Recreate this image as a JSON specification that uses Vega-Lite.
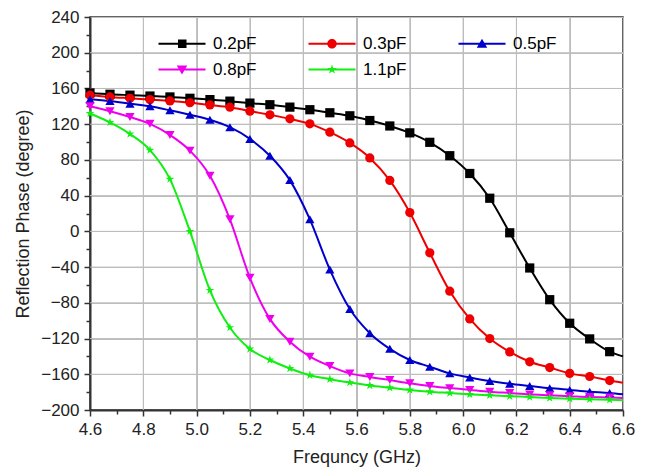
{
  "$schema": "https://vega.github.io/schema/vega-lite/v6.json",
  "width": 533,
  "height": 393,
  "autosize": {"type": "none"},
  "padding": {"left": 90, "top": 17, "right": 26, "bottom": 62},
  "background": "white",
  "config": {
    "font": "Liberation Sans",
    "view": {"stroke": "#333", "strokeWidth": 1.5}
  },
  "datasets": {
    "gx": [{"g":4.8},{"g":5.0},{"g":5.2},{"g":5.4},{"g":5.6},{"g":5.8},{"g":6.0},{"g":6.2},{"g":6.4}],
    "gy": [{"g":-160},{"g":-120},{"g":-80},{"g":-40},{"g":0},{"g":40},{"g":80},{"g":120},{"g":160},{"g":200}],
    "curves": [
      {"f":4.6,"p":155,"s":"0.2pF"},{"f":4.675,"p":153.5,"s":"0.2pF"},{"f":4.75,"p":152.5,"s":"0.2pF"},{"f":4.825,"p":151.5,"s":"0.2pF"},{"f":4.9,"p":150.5,"s":"0.2pF"},{"f":4.975,"p":149,"s":"0.2pF"},{"f":5.05,"p":147.5,"s":"0.2pF"},{"f":5.125,"p":145.8,"s":"0.2pF"},{"f":5.2,"p":143.6,"s":"0.2pF"},{"f":5.275,"p":141.8,"s":"0.2pF"},{"f":5.35,"p":139.1,"s":"0.2pF"},{"f":5.425,"p":136.2,"s":"0.2pF"},{"f":5.5,"p":132.8,"s":"0.2pF"},{"f":5.575,"p":129.4,"s":"0.2pF"},{"f":5.65,"p":124.1,"s":"0.2pF"},{"f":5.725,"p":118,"s":"0.2pF"},{"f":5.8,"p":110.3,"s":"0.2pF"},{"f":5.875,"p":99.7,"s":"0.2pF"},{"f":5.95,"p":84.7,"s":"0.2pF"},{"f":6.025,"p":64.8,"s":"0.2pF"},{"f":6.1,"p":37.1,"s":"0.2pF"},{"f":6.175,"p":-1.6,"s":"0.2pF"},{"f":6.25,"p":-41,"s":"0.2pF"},{"f":6.325,"p":-76.5,"s":"0.2pF"},{"f":6.4,"p":-102.9,"s":"0.2pF"},{"f":6.475,"p":-120.4,"s":"0.2pF"},{"f":6.55,"p":-134.7,"s":"0.2pF"},{"f":6.6,"p":-140,"s":"0.2pF"},
      {"f":4.6,"p":152.5,"s":"0.3pF"},{"f":4.675,"p":150.5,"s":"0.3pF"},{"f":4.75,"p":149,"s":"0.3pF"},{"f":4.825,"p":147.5,"s":"0.3pF"},{"f":4.9,"p":146,"s":"0.3pF"},{"f":4.975,"p":144,"s":"0.3pF"},{"f":5.05,"p":141.5,"s":"0.3pF"},{"f":5.125,"p":139,"s":"0.3pF"},{"f":5.2,"p":134.6,"s":"0.3pF"},{"f":5.275,"p":130.5,"s":"0.3pF"},{"f":5.35,"p":126,"s":"0.3pF"},{"f":5.425,"p":120.4,"s":"0.3pF"},{"f":5.5,"p":111,"s":"0.3pF"},{"f":5.575,"p":99,"s":"0.3pF"},{"f":5.65,"p":82.2,"s":"0.3pF"},{"f":5.725,"p":57,"s":"0.3pF"},{"f":5.8,"p":21,"s":"0.3pF"},{"f":5.875,"p":-24,"s":"0.3pF"},{"f":5.95,"p":-67,"s":"0.3pF"},{"f":6.025,"p":-98,"s":"0.3pF"},{"f":6.1,"p":-120,"s":"0.3pF"},{"f":6.175,"p":-135,"s":"0.3pF"},{"f":6.25,"p":-146,"s":"0.3pF"},{"f":6.325,"p":-152.5,"s":"0.3pF"},{"f":6.4,"p":-159,"s":"0.3pF"},{"f":6.475,"p":-162.5,"s":"0.3pF"},{"f":6.55,"p":-167,"s":"0.3pF"},{"f":6.6,"p":-169.5,"s":"0.3pF"},
      {"f":4.6,"p":148,"s":"0.5pF"},{"f":4.675,"p":146,"s":"0.5pF"},{"f":4.75,"p":143,"s":"0.5pF"},{"f":4.825,"p":140,"s":"0.5pF"},{"f":4.9,"p":135.5,"s":"0.5pF"},{"f":4.975,"p":130.5,"s":"0.5pF"},{"f":5.05,"p":125,"s":"0.5pF"},{"f":5.125,"p":116.6,"s":"0.5pF"},{"f":5.2,"p":103.5,"s":"0.5pF"},{"f":5.275,"p":84.7,"s":"0.5pF"},{"f":5.35,"p":57.4,"s":"0.5pF"},{"f":5.425,"p":13.5,"s":"0.5pF"},{"f":5.5,"p":-42.8,"s":"0.5pF"},{"f":5.575,"p":-87,"s":"0.5pF"},{"f":5.65,"p":-114,"s":"0.5pF"},{"f":5.725,"p":-131.5,"s":"0.5pF"},{"f":5.8,"p":-144,"s":"0.5pF"},{"f":5.875,"p":-151.5,"s":"0.5pF"},{"f":5.95,"p":-159,"s":"0.5pF"},{"f":6.025,"p":-163.5,"s":"0.5pF"},{"f":6.1,"p":-167.5,"s":"0.5pF"},{"f":6.175,"p":-170.5,"s":"0.5pF"},{"f":6.25,"p":-173,"s":"0.5pF"},{"f":6.325,"p":-175.5,"s":"0.5pF"},{"f":6.4,"p":-177.5,"s":"0.5pF"},{"f":6.475,"p":-179.5,"s":"0.5pF"},{"f":6.55,"p":-181,"s":"0.5pF"},{"f":6.6,"p":-182.5,"s":"0.5pF"},
      {"f":4.6,"p":140,"s":"0.8pF"},{"f":4.675,"p":134.5,"s":"0.8pF"},{"f":4.75,"p":128,"s":"0.8pF"},{"f":4.825,"p":120.4,"s":"0.8pF"},{"f":4.9,"p":108,"s":"0.8pF"},{"f":4.975,"p":90.4,"s":"0.8pF"},{"f":5.05,"p":62.2,"s":"0.8pF"},{"f":5.125,"p":13.5,"s":"0.8pF"},{"f":5.2,"p":-52,"s":"0.8pF"},{"f":5.275,"p":-98,"s":"0.8pF"},{"f":5.35,"p":-123.5,"s":"0.8pF"},{"f":5.425,"p":-140.3,"s":"0.8pF"},{"f":5.5,"p":-150.8,"s":"0.8pF"},{"f":5.575,"p":-159,"s":"0.8pF"},{"f":5.65,"p":-163,"s":"0.8pF"},{"f":5.725,"p":-166.5,"s":"0.8pF"},{"f":5.8,"p":-170,"s":"0.8pF"},{"f":5.875,"p":-173,"s":"0.8pF"},{"f":5.95,"p":-175.5,"s":"0.8pF"},{"f":6.025,"p":-177.5,"s":"0.8pF"},{"f":6.1,"p":-179.5,"s":"0.8pF"},{"f":6.175,"p":-181,"s":"0.8pF"},{"f":6.25,"p":-182.5,"s":"0.8pF"},{"f":6.325,"p":-183.5,"s":"0.8pF"},{"f":6.4,"p":-184.5,"s":"0.8pF"},{"f":6.475,"p":-185.5,"s":"0.8pF"},{"f":6.55,"p":-186,"s":"0.8pF"},{"f":6.6,"p":-186.5,"s":"0.8pF"},
      {"f":4.6,"p":132,"s":"1.1pF"},{"f":4.675,"p":122,"s":"1.1pF"},{"f":4.75,"p":109,"s":"1.1pF"},{"f":4.825,"p":91,"s":"1.1pF"},{"f":4.9,"p":58.5,"s":"1.1pF"},{"f":4.975,"p":0,"s":"1.1pF"},{"f":5.05,"p":-66,"s":"1.1pF"},{"f":5.125,"p":-107.7,"s":"1.1pF"},{"f":5.2,"p":-131.7,"s":"1.1pF"},{"f":5.275,"p":-144,"s":"1.1pF"},{"f":5.35,"p":-153.5,"s":"1.1pF"},{"f":5.425,"p":-161,"s":"1.1pF"},{"f":5.5,"p":-165.5,"s":"1.1pF"},{"f":5.575,"p":-169.3,"s":"1.1pF"},{"f":5.65,"p":-172.5,"s":"1.1pF"},{"f":5.725,"p":-175,"s":"1.1pF"},{"f":5.8,"p":-177.5,"s":"1.1pF"},{"f":5.875,"p":-179.5,"s":"1.1pF"},{"f":5.95,"p":-181,"s":"1.1pF"},{"f":6.025,"p":-182.5,"s":"1.1pF"},{"f":6.1,"p":-183.5,"s":"1.1pF"},{"f":6.175,"p":-184.5,"s":"1.1pF"},{"f":6.25,"p":-185.5,"s":"1.1pF"},{"f":6.325,"p":-186.5,"s":"1.1pF"},{"f":6.4,"p":-187.3,"s":"1.1pF"},{"f":6.475,"p":-188,"s":"1.1pF"},{"f":6.55,"p":-188.5,"s":"1.1pF"},{"f":6.6,"p":-189,"s":"1.1pF"}
    ]
  },
  "layer": [
    {
      "data": {"name": "gx"},
      "mark": {"type": "rule", "stroke": "#bdbdbd", "strokeWidth": 1},
      "encoding": {
        "x": {"field": "g", "type": "quantitative", "scale": {"domain": [4.6, 6.6], "nice": false, "zero": false}, "axis": null}
      }
    },
    {
      "data": {"name": "gy"},
      "mark": {"type": "rule", "stroke": "#bdbdbd", "strokeWidth": 1},
      "encoding": {
        "y": {"field": "g", "type": "quantitative", "scale": {"domain": [-200, 240], "nice": false, "zero": false}, "axis": null}
      }
    },
    {
      "data": {"name": "curves"},
      "mark": {"type": "line", "interpolate": "monotone", "strokeWidth": 2},
      "encoding": {
        "x": {
          "field": "f", "type": "quantitative",
          "scale": {"domain": [4.6, 6.6], "nice": false, "zero": false},
          "axis": {
            "title": "Frequncy (GHz)", "orient": "bottom",
            "values": [4.6,4.8,5.0,5.2,5.4,5.6,5.8,6.0,6.2,6.4,6.6],
            "format": ".1f",
            "labelOverlap": false, "labelFlush": false, "labelBound": false,
            "labelFont": "Liberation Sans", "labelFontSize": 17, "labelColor": "#222", "labelPadding": 5,
            "tickSize": 6, "tickColor": "#333", "tickWidth": 1.5,
            "domainColor": "#333", "domainWidth": 2,
            "grid": true, "gridColor": "#bdbdbd", "gridWidth": 1, "gridOpacity": 1,
            "titleFont": "Liberation Sans", "titleFontSize": 18, "titleFontWeight": "normal", "titleColor": "#222", "titlePadding": 11
          }
        },
        "y": {
          "field": "p", "type": "quantitative",
          "scale": {"domain": [-200, 240], "nice": false, "zero": false},
          "axis": {
            "title": "Reflection Phase (degree)", "orient": "left",
            "values": [-200,-160,-120,-80,-40,0,40,80,120,160,200,240],
            "labelOverlap": false, "labelFlush": false, "labelBound": false,
            "labelFont": "Liberation Sans", "labelFontSize": 17, "labelColor": "#222", "labelPadding": 5,
            "tickSize": 6, "tickColor": "#333", "tickWidth": 1.5,
            "domainColor": "#333", "domainWidth": 2,
            "grid": true, "gridColor": "#bdbdbd", "gridWidth": 1, "gridOpacity": 1,
            "titleFont": "Liberation Sans", "titleFontSize": 18, "titleFontWeight": "normal", "titleColor": "#222", "titlePadding": 8
          }
        },
        "color": {
          "field": "s", "type": "nominal",
          "scale": {"domain": ["0.2pF","0.3pF","0.5pF","0.8pF","1.1pF"], "range": ["#000000","#ee0000","#0000cc","#ee00ee","#11ee11"]},
          "legend": {
            "orient": "none", "legendX": 65, "legendY": 18,
            "columns": 3, "direction": "horizontal", "title": null,
            "padding": 0, "columnPadding": 48, "rowPadding": 8,
            "labelFont": "Liberation Sans", "labelFontSize": 17, "labelColor": "#000", "labelOffset": 41,
            "symbolSize": 100, "symbolStrokeWidth": 0, "symbolOpacity": 1,
            "encode": {
              "symbols": {
                "update": {
                  "shape": {"signal": "datum.value === '0.2pF' ? 'M-1,-0.2H8.4V0.2H-1Z M2.9,-0.85H4.6V0.85H2.9Z' : datum.value === '0.3pF' ? 'M-1,-0.2H8.4V0.2H-1Z M4.65,0A0.95,0.95 0 1,1 2.75,0A0.95,0.95 0 1,1 4.65,0Z' : datum.value === '0.5pF' ? 'M-1,-0.2H8.4V0.2H-1Z M3.7,-1L4.75,0.8H2.65Z' : datum.value === '0.8pF' ? 'M-1,-0.2H8.4V0.2H-1Z M3.7,1L2.65,-0.8H4.75Z' : 'M-1,-0.2H8.4V0.2H-1Z M3.7,-1L3.92,-0.31L4.65,-0.31L4.06,0.12L4.29,0.81L3.7,0.38L3.11,0.81L3.34,0.12L2.75,-0.31L3.48,-0.31Z'"},
                  "fill": {"signal": "scale('color', datum.value)"},
                  "stroke": {"value": "transparent"},
                  "opacity": {"value": 1}
                }
              }
            }
          }
        }
      }
    },
    {
      "data": {"name": "curves"},
      "transform": [{"filter": "datum.f < 6.58"}],
      "mark": {"type": "point", "filled": true, "size": 85, "opacity": 1},
      "encoding": {
        "x": {
          "field": "f", "type": "quantitative",
          "scale": {"domain": [4.6, 6.6], "nice": false, "zero": false},
          "axis": {
            "orient": "bottom", "title": null, "labels": false, "grid": false, "domain": false,
            "values": [4.7,4.9,5.1,5.3,5.5,5.7,5.9,6.1,6.3,6.5],
            "tickSize": 4, "tickColor": "#333", "tickWidth": 1.5
          }
        },
        "y": {
          "field": "p", "type": "quantitative",
          "scale": {"domain": [-200, 240], "nice": false, "zero": false},
          "axis": {
            "orient": "left", "title": null, "labels": false, "grid": false, "domain": false,
            "values": [-180,-140,-100,-60,-20,20,60,100,140,180,220],
            "tickSize": 4, "tickColor": "#333", "tickWidth": 1.5
          }
        },
        "color": {
          "field": "s", "type": "nominal",
          "scale": {"domain": ["0.2pF","0.3pF","0.5pF","0.8pF","1.1pF"], "range": ["#000000","#ee0000","#0000cc","#ee00ee","#11ee11"]}
        },
        "shape": {
          "field": "s", "type": "nominal",
          "scale": {"range": ["square","circle","triangle-up","triangle-down","M0,-1L0.2245,-0.309L0.951,-0.309L0.363,0.118L0.588,0.809L0,0.382L-0.588,0.809L-0.363,0.118L-0.951,-0.309L-0.2245,-0.309Z"]},
          "legend": null
        }
      }
    }
  ],
  "resolve": {"axis": {"x": "independent", "y": "independent"}}
}
